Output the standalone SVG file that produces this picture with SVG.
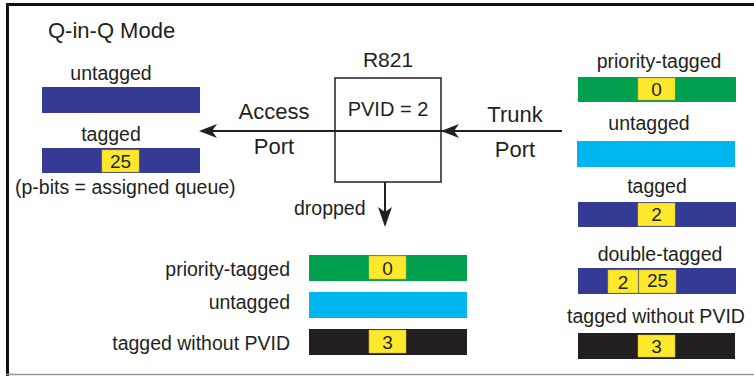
<svg xmlns="http://www.w3.org/2000/svg" width="754" height="376" viewBox="0 0 754 376">
<defs>
<style>
text{font-family:"Liberation Sans",Arial,sans-serif;fill:#231f20}
.t{font-size:19.5px}
.p{font-size:22px;text-anchor:middle}
.m{text-anchor:middle}
.e{text-anchor:end}
.n{font-size:19px;text-anchor:middle}
.blue{fill:#353b95}
.green{fill:#00a04e}
.cyan{fill:#00b6ee}
.black{fill:#231f20}
.y{fill:#fde82c;stroke:#c8b830;stroke-width:0.5}
.ln{stroke:#231f20;stroke-width:2;fill:none}
</style>
<path id="ah" d="M0,0 L18,-7 L13,0 L18,7 Z" fill="#231f20"/>
</defs>
<rect width="754" height="376" fill="#fff"/>
<g id="frame">
<line x1="6" y1="4.5" x2="754" y2="4.5" stroke="#111" stroke-width="3"/>
<line x1="7.5" y1="3" x2="7.5" y2="376" stroke="#111" stroke-width="3"/>
<line x1="6" y1="374.5" x2="754" y2="374.5" stroke="#999" stroke-width="1.5"/>
</g>
<text x="48" y="38" font-size="22">Q-in-Q Mode</text>
<g id="router">
<rect x="335" y="78" width="106" height="104" fill="#fff" stroke="#231f20" stroke-width="1.5"/>
<text x="388" y="67" font-size="21" text-anchor="middle">R821</text>
<text x="388" y="116" font-size="20" text-anchor="middle">PVID = 2</text>
</g>
<g id="connectors">
<line class="ln" x1="205" y1="131" x2="562" y2="131"/>
<use href="#ah" x="199" y="131"/>
<use href="#ah" x="441" y="131"/>
<line class="ln" x1="385" y1="182" x2="385" y2="220"/>
<path d="M385,227 L378,207 L385,212 L392,207 Z" fill="#231f20"/>
<text class="p" x="274" y="119">Access</text>
<text class="p" x="274" y="154">Port</text>
<text class="p" x="515" y="122">Trunk</text>
<text class="p" x="515" y="157">Port</text>
<text x="294" y="215" font-size="19.5">dropped</text>
</g>
<g id="access-untagged">
<text class="t m" x="111" y="80">untagged</text>
<rect class="blue" x="42" y="87" width="158" height="26"/>
</g>
<g id="access-tagged">
<text class="t m" x="111" y="141">tagged</text>
<rect class="blue" x="42" y="148" width="158" height="25"/>
<rect class="y" x="102" y="150" width="37" height="22"/>
<text class="n" x="120.5" y="168">25</text>
<text class="t" x="15" y="194">(p-bits = assigned queue)</text>
</g>
<g id="trunk-priority">
<text class="t m" x="659" y="68">priority-tagged</text>
<rect class="green" x="578" y="77" width="158" height="25"/>
<rect class="y" x="638" y="78" width="37" height="22"/>
<text class="n" x="656.5" y="96">0</text>
</g>
<g id="trunk-untagged">
<text class="t m" x="649" y="130">untagged</text>
<rect class="cyan" x="577" y="141" width="158" height="26"/>
</g>
<g id="trunk-tagged">
<text class="t m" x="657" y="193">tagged</text>
<rect class="blue" x="578" y="202" width="158" height="25"/>
<rect class="y" x="638" y="203" width="37" height="23"/>
<text class="n" x="656.5" y="221">2</text>
</g>
<g id="trunk-double">
<text class="t m" x="660" y="261">double-tagged</text>
<rect class="blue" x="578" y="268" width="158" height="26"/>
<rect class="y" x="608" y="270" width="30" height="23"/>
<text class="n" x="623" y="289">2</text>
<rect class="y" x="639" y="270" width="37" height="23"/>
<text class="n" x="657.5" y="287">25</text>
</g>
<g id="trunk-nopvid">
<text class="t m" x="656" y="323">tagged without PVID</text>
<rect class="black" x="578" y="333" width="157" height="26"/>
<rect class="y" x="638" y="335" width="37" height="22"/>
<text class="n" x="656.5" y="353">3</text>
</g>
<g id="drop-priority">
<text class="t e" x="290" y="276">priority-tagged</text>
<rect class="green" x="309" y="255" width="158" height="26"/>
<rect class="y" x="369" y="256" width="37" height="23"/>
<text class="n" x="387.5" y="275">0</text>
</g>
<g id="drop-untagged">
<text class="t e" x="290" y="309">untagged</text>
<rect class="cyan" x="309" y="292" width="158" height="26"/>
</g>
<g id="drop-nopvid">
<text class="t e" x="290" y="350">tagged without PVID</text>
<rect class="black" x="309" y="329" width="158" height="26"/>
<rect class="y" x="369" y="330" width="37" height="23"/>
<text class="n" x="387.5" y="349">3</text>
</g>
</svg>
